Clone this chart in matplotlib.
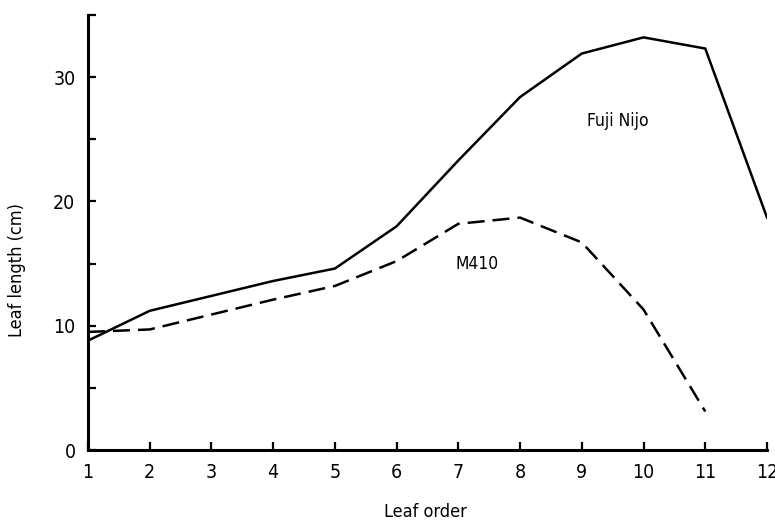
import matplotlib
matplotlib.use("Agg")
import matplotlib.pyplot as plt

plt.rcParams['font.family'] = ['DejaVu Sans']
plt.rcParams['font.stretch'] = 'condensed'

# leaf order on the main stem
leaf_order = [1, 2, 3, 4, 5, 6, 7, 8, 9, 10, 11, 12]
# leaf length (cm)
fuji_nijo = [8.8, 11.2, 12.4, 13.6, 14.6, 18.0, 23.3, 28.4, 31.9, 33.2, 32.3, 18.7]
m410_order = [1, 2, 3, 4, 5, 6, 7, 8, 9, 10, 11]
m410 = [9.5, 9.7, 10.9, 12.1, 13.2, 15.2, 18.2, 18.7, 16.7, 11.3, 3.1]

fig = plt.figure(figsize=(7.75, 5.25), dpi=100)
ax = fig.add_axes([88 / 775, 1 - 450 / 525, (767 - 88) / 775, (450 - 15) / 525])

ax.plot(leaf_order, fuji_nijo, color='black', lw=1.8, solid_joinstyle='miter')
ax.plot(m410_order, m410, color='black', lw=1.8, linestyle=(0, (6.8, 3.2)))

ax.text(9.59, 26.5, 'Fuji Nijo', fontsize=12.5, ha='center', va='center')
ax.text(7.30, 15.0, 'M410', fontsize=12.5, ha='center', va='center')

ax.set_xlim(1, 12)
ax.set_ylim(0, 35)
ax.set_xticks(leaf_order)
ax.set_yticks([0, 10, 20, 30])
ax.set_yticks([5, 15, 25, 35], minor=True)

for side in ['top', 'right']:
    ax.spines[side].set_visible(False)
for side in ['left', 'bottom']:
    ax.spines[side].set_linewidth(2.2)

ax.tick_params(axis='both', which='both', direction='in', width=1.6, labelsize=14)
ax.tick_params(axis='both', which='major', length=6)
ax.tick_params(axis='y', which='minor', length=6)
ax.tick_params(axis='y', pad=9)
ax.tick_params(axis='x', pad=9)

fig.text(17 / 775, 1 - 270 / 525, 'Leaf length (cm)', rotation=90, fontsize=13,
         ha='center', va='center')
fig.text(425 / 775, 1 - 512 / 525, 'Leaf order', fontsize=13, ha='center', va='center')

fig.savefig('out.png', dpi=100)
